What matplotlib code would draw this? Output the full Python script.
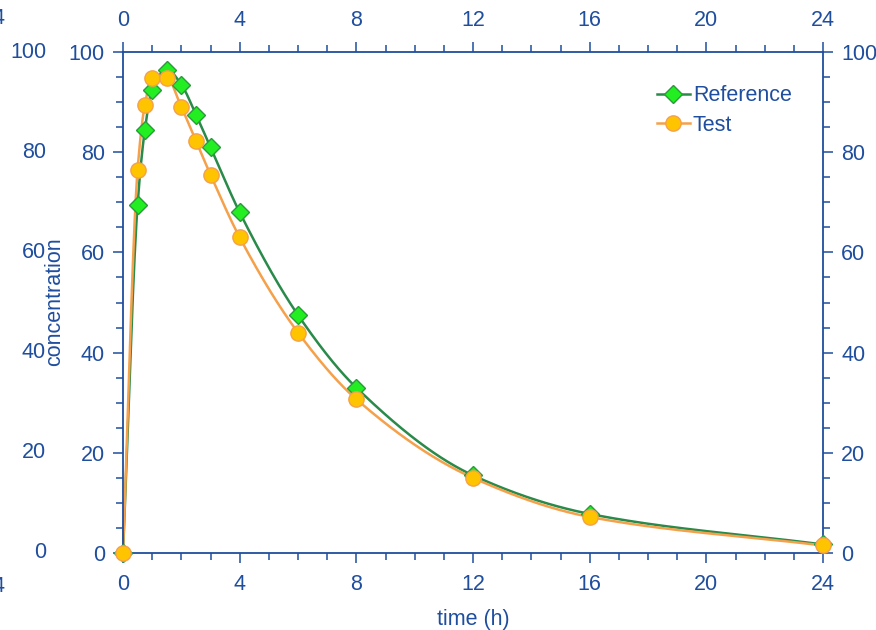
import numpy as np
import matplotlib
matplotlib.use("Agg")
import matplotlib.pyplot as plt
from matplotlib.ticker import MultipleLocator

# sampling times (h) and measured concentrations
time = [0, 0.5, 0.75, 1, 1.5, 2, 2.5, 3, 4, 6, 8, 12, 16, 24]
reference = [0, 69.5, 84.5, 92.5, 96.5, 93.5, 87.5, 81.0, 68.0, 47.5, 33.0, 15.5, 7.8, 1.7]
test = [0, 76.5, 89.5, 94.8, 94.8, 89.0, 82.3, 75.5, 63.0, 44.0, 30.7, 15.0, 7.2, 1.5]

x_ticks = [0, 4, 8, 12, 16, 20, 24]
y_ticks = [0, 20, 40, 60, 80, 100]

blue = '#1f4e9e'
fs = 15.5
plt.rcParams['font.family'] = ['Liberation Sans', 'DejaVu Sans']


def pchip(x, y, xs):
    # monotone cubic through the points, only used to draw the smooth line
    x = np.asarray(x, float)
    y = np.asarray(y, float)
    h = np.diff(x)
    d = np.diff(y) / h
    m = np.zeros_like(y)
    for k in range(1, len(x) - 1):
        if d[k - 1] * d[k] > 0:
            w1 = 2 * h[k] + h[k - 1]
            w2 = h[k] + 2 * h[k - 1]
            m[k] = (w1 + w2) / (w1 / d[k - 1] + w2 / d[k])
    m[0] = d[0]
    m[-1] = d[-1]
    idx = np.clip(np.searchsorted(x, xs) - 1, 0, len(x) - 2)
    t = (xs - x[idx]) / h[idx]
    h00 = 2 * t**3 - 3 * t**2 + 1
    h10 = t**3 - 2 * t**2 + t
    h01 = -2 * t**3 + 3 * t**2
    h11 = t**3 - t**2
    return h00 * y[idx] + h10 * h[idx] * m[idx] + h01 * y[idx + 1] + h11 * h[idx] * m[idx + 1]


fig = plt.figure(figsize=(8.76, 6.3), dpi=100)
ax = fig.add_axes([123 / 876, 77 / 630, 700 / 876, 501 / 630])

xs = np.linspace(0, 24, 1200)
ax.plot(xs, pchip(time, reference, xs), color='#2a8a4a', lw=1.8, zorder=2)
ax.plot(xs, pchip(time, test, xs), color='#f5a04a', lw=1.8, zorder=2)
ax.plot(time, reference, 'D', color='#22ee22', mec='#2a9a3a', ms=9, zorder=3)
ax.plot(time, test, 'o', color='#ffc400', mec='#f5a04a', ms=11, zorder=4)

# legend handles
ax.plot([], [], '-D', color='#2a8a4a', mfc='#22ee22', mec='#2a9a3a', ms=9, lw=1.8, label='Reference')
ax.plot([], [], '-o', color='#f5a04a', mfc='#ffc400', mec='#f5a04a', ms=11, lw=1.8, label='Test')
leg = ax.legend(loc='upper left', bbox_to_anchor=(653 / 876, 1 - 81 / 630),
                bbox_transform=fig.transFigure, frameon=False, fontsize=fs,
                handlelength=1.5, handletextpad=0.15, labelspacing=0.4, borderaxespad=0,
                borderpad=0.2)
for t in leg.get_texts():
    t.set_color(blue)

ax.set_xlim(0, 24)
ax.set_ylim(0, 100)
ax.set_xticks(x_ticks)
ax.set_yticks(y_ticks)
ax.xaxis.set_minor_locator(MultipleLocator(1))
ax.yaxis.set_minor_locator(MultipleLocator(5))
ax.tick_params(which='both', direction='out', top=True, right=True,
               labeltop=True, labelright=True, colors=blue, labelsize=fs, width=1.1)
ax.tick_params(which='major', length=7, pad=6)
ax.tick_params(which='minor', length=5)
ax.tick_params(axis='x', which='major', pad=8)
for s in ax.spines.values():
    s.set_color(blue)
    s.set_linewidth(1.3)
for ln in ax.lines:
    ln.set_clip_on(False)

fig.text(473 / 876, 1 - 619 / 630, 'time (h)', color=blue, fontsize=fs, ha='center', va='center')
fig.text(55 / 876, 1 - 302 / 630, 'concentration', color=blue, fontsize=fs,
         ha='center', va='center', rotation=90)

# ghost labels from the neighbouring panel at the left edge
for v in y_ticks:
    fig.text(46 / 876, 1 - (553 - 5.01 * v) / 630, str(v), color=blue, fontsize=fs,
             ha='right', va='center')
fig.text(6 / 876, 1 - 19 / 630, '24', color=blue, fontsize=fs, ha='right', va='center')
fig.text(6 / 876, 1 - 586 / 630, '24', color=blue, fontsize=fs, ha='right', va='center')

fig.savefig('out.png', dpi=100)
